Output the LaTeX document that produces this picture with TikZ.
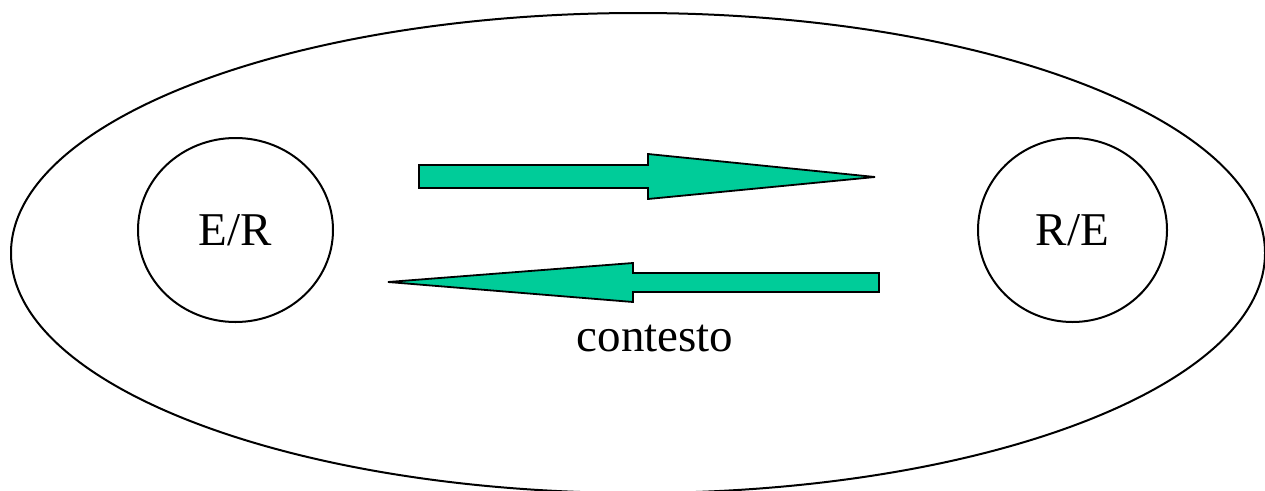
\documentclass[tikz,border=0pt]{standalone}
\usepackage{fontspec}
\setmainfont{Liberation Serif}
\usetikzlibrary{shapes.geometric}
\definecolor{arrowgreen}{HTML}{00CC99}
\begin{document}
\begin{tikzpicture}[x=1pt,y=-1pt,
  outline/.style={draw=black,line width=2pt},
  party/.style={outline,ellipse,minimum width=#1,minimum height=184pt,inner sep=0pt,font=\fontsize{47}{56}\selectfont},
  fatarrow/.style={draw=black,line width=1.8pt,fill=arrowgreen,line join=miter},
  lbl/.style={font=\fontsize{47}{56}\selectfont}]
\useasboundingbox (0,0) rectangle (1265,490);
\clip (0,0) rectangle (1265,490);
% context ellipse
\draw[outline] (638,253) ellipse [x radius=627, y radius=240];
% parties
\node[party=195pt] (er) at (235.5,230) {E/R};
\node[party=189pt] (re) at (1072.5,230) {R/E};
% arrows
\draw[fatarrow] (419,165) -- (648,165) -- (648,154) -- (875,177) -- (648,199) -- (648,188) -- (419,188) -- cycle;
\draw[fatarrow] (879,273) -- (633,273) -- (633,263) -- (388,282) -- (633,302) -- (633,292) -- (879,292) -- cycle;
\node[lbl,anchor=base] (ctx) at (655,351) {contesto};
\end{tikzpicture}
\end{document}
